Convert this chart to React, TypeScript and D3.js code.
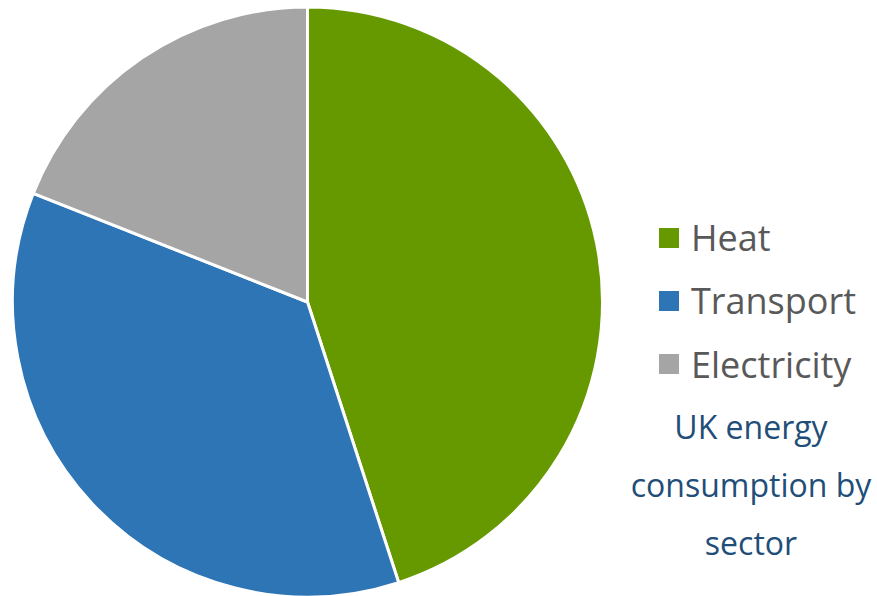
import React from "react";
import * as d3 from "d3";

const categories = ["Heat", "Transport", "Electricity"];
const values = [45, 36, 19];
const colors = ["#669900", "#2E75B6", "#A5A5A5"];
const titleLines = ["UK energy", "consumption by", "sector"];

export default function App() {
  const W = 877, H = 596;
  const cx = 307.5, cy = 302, r = 295;
  const pie = d3.pie<number>().sort(null).value((d) => d)(values);
  const arc = d3.arc<d3.PieArcDatum<number>>().innerRadius(0).outerRadius(r);
  const legendY = d3.scaleLinear().domain([0, 1]).range([251, 314]);
  const titleY = d3.scaleLinear().domain([0, 1]).range([439, 497]);
  return (
    <svg width={W} height={H} style={{ position: "absolute", left: 0, top: 0, background: "#fff" }}>
      <g transform={`translate(${cx},${cy})`}>
        {pie.map((p, i) => (
          <path key={i} d={arc(p) || ""} fill={colors[i]} stroke="#fff" strokeWidth={3} strokeLinejoin="round" />
        ))}
      </g>
      <g fontFamily="'Open Sans', sans-serif">
        {categories.map((c, i) => (
          <g key={c}>
            <rect x={659} y={legendY(i) - 23} width={20} height={20} fill={colors[i]} />
            <text x={691} y={legendY(i) + (i === 2 ? 1 : 0)} fontSize={36} fill="#595959">{c}</text>
          </g>
        ))}
        {titleLines.map((t, i) => (
          <text key={t} x={751} y={titleY(i)} fontSize={32} fill="#1F4E79" textAnchor="middle">{t}</text>
        ))}
      </g>
    </svg>
  );
}
